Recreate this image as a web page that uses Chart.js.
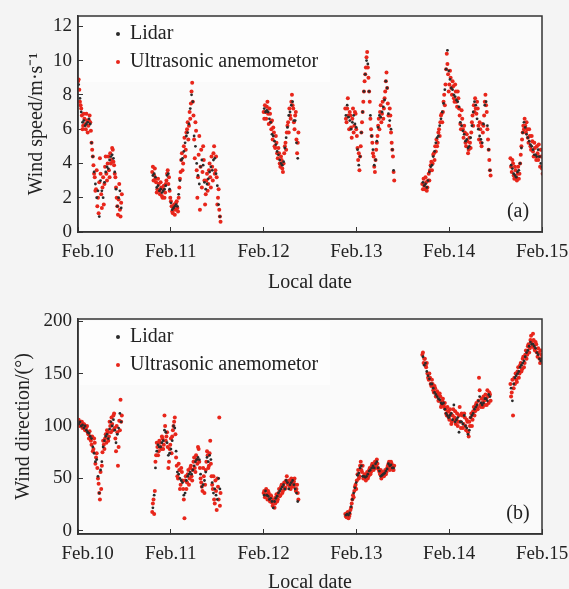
<!DOCTYPE html>
<html lang="en">
<head>
    <meta charset="UTF-8">
    <title>Wind speed and direction - Lidar vs ultrasonic anemometor</title>
    <script src="https://cdn.jsdelivr.net/npm/chart.js@4.4.0/dist/chart.umd.min.js"></script>
    <style>
        body { margin: 0; background: #f4f4f4; }
        #wrap { position: relative; width: 569px; height: 589px; overflow: hidden; }
        canvas { position: absolute; left: 0; }
        #speedChart { top: 0; }
        #dirChart { top: 300px; }
    </style>
</head>
<body>
<div id="wrap">
    <canvas id="speedChart" width="569" height="295"></canvas>
    <canvas id="dirChart" width="569" height="289"></canvas>
</div>
<script>
    // sampling: each segment starts at segStart (day of Feb), one value every 20 min
    const STEP = 1 / 72;
    const segStart = [10.00, 10.80, 12.00, 12.88, 13.71, 14.66];

    const dateTicks = [10, 11, 12, 13, 14, 15];
    const dateLabels = ['Feb.10', 'Feb.11', 'Feb.12', 'Feb.13', 'Feb.14', 'Feb.15'];
    const speedTicks = [0, 2, 4, 6, 8, 10, 12];
    const dirTicks = [0, 50, 100, 150, 200];

    // wind speed (m/s), ultrasonic anemometor, on the 20 min marks
    const speedUltra = [
        [8.8, 8.3, 7.4, 6.8, 6.2, 6.6, 6.0, 6.5, 6.2, 6.8, 5.9, 4.8, 3.9, 3.2, 2.5, 1.5, 1.1, 4.3, 2.2, 2.6, 1.6, 3.8, 3.4, 4.0, 3.6, 4.6, 4.2, 4.8, 3.9, 3.2, 2.0, 1.0, 2.8, 0.9, 2.2],
        [3.5, 3.0, 3.7, 2.9, 2.5, 2.8, 2.2, 2.6, 2.0, 2.7, 2.3, 3.0, 3.6, 3.2, 2.0, 1.5, 1.1, 1.6, 1.3, 1.8, 1.2, 2.6, 3.5, 4.6, 4.0, 5.5, 4.8, 6.0, 5.4, 7.0, 7.5, 8.7, 6.8, 4.3, 5.9, 2.0, 4.5, 1.3, 4.8, 3.5, 4.2, 1.6, 3.0, 2.4, 3.6, 3.2, 4.4, 3.0, 5.0, 3.6, 3.2, 2.0, 1.3, 0.6],
        [7.0, 7.4, 6.6, 7.6, 6.3, 6.9, 6.0, 5.4, 5.8, 4.9, 5.2, 4.3, 4.6, 3.8, 4.2, 3.5, 4.6, 5.2, 5.8, 6.4, 7.2, 6.6, 8.0, 7.2, 6.0, 7.0, 4.6, 5.8],
        [7.2, 6.4, 7.8, 6.0, 6.8, 5.5, 7.2, 6.2, 6.9, 5.6, 4.2, 3.6, 5.0, 6.4, 7.6, 8.8, 9.6, 10.5, 9.0, 7.6, 6.0, 5.2, 4.4, 3.5, 4.8, 5.6, 6.6, 7.0, 6.4, 7.6, 7.2, 8.2, 9.3, 7.5, 6.2, 6.8, 5.2, 4.4, 3.0],
        [2.8, 3.1, 2.5, 2.9, 2.6, 3.4, 3.6, 4.1, 4.0, 4.6, 5.0, 5.4, 5.2, 6.0, 6.4, 6.9, 7.0, 8.0, 8.6, 10.4, 9.2, 8.6, 9.0, 8.0, 8.5, 7.6, 8.2, 7.3, 7.8, 6.8, 6.0, 6.6, 5.5, 5.8, 5.0, 5.3, 4.8, 5.2, 5.8, 6.8, 7.4, 7.8, 6.9, 7.2, 5.4, 6.0, 5.0, 5.8, 6.8, 8.0, 7.0, 5.4, 4.2, 3.3],
        [4.3, 3.5, 4.0, 3.1, 3.6, 3.0, 3.8, 3.4, 4.5, 5.4, 6.2, 6.6, 5.8, 6.0, 5.2, 5.6, 4.8, 5.3, 4.4, 4.9, 4.2, 4.6, 5.1, 3.8, 4.4, 3.4]
    ];

    // wind speed (m/s), ultrasonic anemometor, 10 min after each mark
    const speedUltraMid = [
        [8.9, 7.6, 7.2, 6.0, 6.9, 6.3, 6.9, 5.8, 6.5, 6.4, 5.2, 4.4, 3.4, 2.4, 3.6, 2.0, 2.9, 3.4, 1.4, 3.2, 2.8, 4.4, 3.0, 4.4, 3.2, 4.0, 4.9, 4.1, 3.4, 2.6, 1.5, 1.9, 1.3, 1.7],
        [3.8, 3.3, 3.1, 2.3, 3.1, 2.4, 2.9, 2.1, 2.5, 2.0, 2.8, 3.4, 2.8, 2.4, 1.8, 1.2, 1.4, 1.0, 1.7, 1.4, 2.0, 3.1, 4.2, 3.6, 5.0, 4.4, 5.8, 6.4, 6.2, 6.6, 8.2, 7.6, 5.4, 6.4, 3.6, 3.2, 5.6, 3.8, 2.6, 5.0, 3.0, 2.2, 3.4, 2.8, 4.0, 2.6, 3.8, 4.6, 3.4, 4.4, 1.6, 2.5, 0.9],
        [6.6, 7.0, 7.3, 6.9, 7.2, 6.4, 6.5, 6.1, 5.0, 5.6, 4.6, 4.9, 4.0, 4.4, 3.7, 4.0, 5.0, 4.8, 6.2, 5.8, 6.8, 7.6, 7.4, 6.4, 6.8, 5.4, 5.2],
        [6.6, 7.2, 6.8, 7.0, 6.1, 6.6, 5.8, 7.0, 6.0, 4.9, 4.6, 4.4, 5.8, 7.0, 8.2, 9.2, 10.2, 9.6, 8.2, 6.6, 5.6, 4.6, 3.8, 4.2, 5.2, 6.2, 6.0, 7.4, 6.9, 6.6, 7.8, 8.8, 8.4, 6.8, 7.2, 5.8, 4.8, 3.5],
        [2.5, 2.7, 3.2, 2.4, 3.0, 3.0, 3.9, 3.6, 4.5, 4.2, 4.7, 5.0, 5.8, 5.6, 6.8, 6.4, 7.6, 7.4, 9.5, 9.8, 8.2, 9.4, 8.4, 8.8, 7.8, 8.6, 7.6, 8.2, 7.2, 6.3, 7.1, 6.0, 6.2, 5.2, 5.7, 4.6, 5.5, 4.9, 6.4, 6.2, 7.0, 7.2, 7.6, 6.2, 6.4, 5.2, 6.3, 6.2, 7.6, 7.4, 6.0, 4.8, 3.6],
        [3.8, 4.2, 3.3, 3.8, 3.2, 3.4, 3.1, 4.0, 5.0, 5.8, 6.0, 6.2, 6.4, 5.5, 6.0, 5.0, 5.6, 4.7, 5.2, 4.4, 5.0, 4.2, 4.4, 4.8, 3.7]
    ];

    // wind speed (m/s), lidar, 10 min after each mark
    const speedLidar = [
        [8.6, 7.8, 7.0, 6.4, 6.5, 6.2, 6.3, 6.4, 6.6, 6.3, 5.2, 4.4, 3.5, 2.8, 2.0, 2.4, 0.9, 3.0, 2.4, 2.0, 2.9, 3.5, 3.8, 3.7, 4.2, 4.4, 4.5, 4.3, 3.5, 2.5, 1.5, 2.0, 2.4, 1.4],
        [3.3, 3.4, 3.2, 2.6, 2.7, 2.4, 2.5, 2.3, 2.4, 2.5, 2.7, 3.3, 3.4, 2.5, 1.7, 1.3, 1.4, 1.5, 1.6, 1.5, 2.2, 3.0, 4.2, 4.3, 4.7, 5.2, 5.6, 5.8, 6.3, 7.2, 8.0, 7.6, 5.6, 5.0, 4.0, 3.3, 2.8, 3.8, 4.2, 3.9, 2.9, 2.5, 2.8, 3.1, 3.5, 3.8, 3.6, 4.2, 4.3, 3.4, 2.7, 1.6, 0.9],
        [7.2, 7.0, 7.1, 7.0, 6.6, 6.4, 5.7, 5.6, 5.3, 5.1, 4.7, 4.5, 4.2, 4.0, 3.9, 4.1, 4.9, 5.5, 6.1, 6.8, 7.0, 7.4, 7.6, 6.5, 6.5, 5.2, 4.3],
        [6.8, 7.4, 6.7, 6.5, 6.0, 6.4, 6.8, 6.3, 6.1, 4.8, 3.9, 4.4, 5.8, 7.0, 8.2, 9.2, 10.0, 9.8, 8.2, 6.8, 5.6, 4.8, 3.9, 4.2, 5.3, 6.1, 6.8, 6.7, 7.0, 7.3, 7.7, 8.8, 8.4, 6.9, 6.5, 6.0, 4.8, 3.6],
        [2.9, 2.7, 2.8, 2.6, 3.0, 3.5, 3.8, 3.9, 4.4, 4.7, 5.2, 5.5, 5.6, 6.2, 6.6, 7.0, 7.5, 8.3, 9.5, 10.6, 9.4, 8.9, 8.4, 8.3, 8.0, 7.9, 7.7, 7.6, 7.3, 6.4, 6.2, 5.9, 5.7, 5.3, 5.4, 4.9, 5.0, 5.5, 6.2, 7.0, 7.6, 7.4, 6.6, 6.0, 5.6, 5.4, 5.2, 6.3, 7.4, 7.6, 6.2, 4.8, 3.6],
        [3.9, 3.7, 3.4, 3.3, 3.2, 3.5, 3.6, 4.0, 4.9, 5.8, 6.4, 6.1, 5.7, 5.5, 5.3, 5.1, 5.0, 4.8, 4.5, 4.5, 4.4, 4.8, 4.4, 4.0, 3.8]
    ];

    // wind direction (deg), ultrasonic anemometor, on the 20 min marks
    const dirUltra = [
        [104, 103, 101, 104, 99, 101, 97, 100, 92, 95, 86, 90, 78, 84, 70, 60, 45, 30, 40, 75, 82, 88, 84, 94, 90, 100, 108, 96, 112, 88, 100, 62, 105, 125, 110],
        [18, 30, 38, 72, 80, 76, 84, 78, 88, 82, 100, 90, 80, 66, 82, 74, 96, 104, 92, 62, 50, 58, 44, 56, 40, 12, 52, 46, 58, 50, 62, 48, 66, 60, 72, 64, 78, 60, 46, 38, 52, 44, 66, 72, 62, 86, 52, 40, 30, 48, 20, 42, 108, 36],
        [36, 32, 40, 30, 36, 28, 33, 24, 30, 26, 35, 30, 40, 34, 44, 38, 46, 41, 52, 44, 48, 40, 46, 42, 50, 38, 44, 30],
        [16, 13, 18, 14, 20, 26, 34, 38, 44, 48, 58, 52, 66, 56, 50, 54, 48, 56, 52, 60, 56, 64, 58, 66, 62, 64, 58, 54, 50, 56, 52, 58, 56, 62, 66, 60, 64, 58, 62],
        [168, 160, 164, 156, 150, 144, 146, 138, 140, 132, 136, 128, 130, 124, 128, 120, 126, 118, 116, 110, 114, 106, 112, 104, 116, 108, 102, 112, 104, 118, 98, 110, 102, 108, 96, 104, 90, 100, 112, 106, 118, 114, 122, 116, 146, 120, 126, 118, 124, 130, 120, 128, 132, 124],
        [140, 132, 110, 146, 150, 142, 156, 150, 160, 154, 166, 160, 172, 168, 178, 174, 186, 176, 182, 172, 178, 166, 170, 160, 168, 166]
    ];

    // wind direction (deg), ultrasonic anemometor, 10 min after each mark
    const dirUltraMid = [
        [106, 100, 104, 98, 102, 96, 99, 94, 88, 90, 82, 76, 88, 64, 74, 50, 36, 56, 62, 86, 78, 92, 96, 86, 104, 94, 102, 110, 98, 76, 94, 80, 96, 104],
        [26, 16, 66, 84, 72, 86, 80, 90, 78, 110, 86, 94, 60, 78, 88, 90, 100, 108, 70, 52, 64, 40, 60, 48, 30, 48, 40, 54, 44, 60, 52, 58, 70, 56, 68, 80, 66, 50, 42, 60, 36, 58, 76, 60, 74, 64, 44, 52, 26, 38, 50, 30, 24],
        [38, 34, 35, 38, 31, 34, 27, 30, 22, 32, 28, 36, 33, 42, 36, 42, 40, 48, 45, 46, 42, 50, 43, 47, 44, 40, 36],
        [14, 17, 12, 16, 22, 30, 32, 42, 40, 54, 50, 62, 58, 62, 52, 50, 54, 50, 58, 54, 62, 60, 62, 60, 68, 60, 56, 58, 52, 54, 56, 54, 60, 64, 58, 66, 62, 58],
        [170, 164, 158, 160, 146, 150, 140, 144, 134, 138, 128, 133, 124, 131, 118, 124, 120, 122, 112, 118, 108, 116, 102, 110, 106, 114, 106, 100, 110, 104, 112, 98, 112, 100, 106, 94, 104, 108, 100, 114, 110, 120, 118, 124, 134, 118, 122, 128, 120, 126, 134, 122, 130],
        [128, 144, 136, 140, 144, 152, 146, 158, 152, 164, 156, 168, 164, 176, 170, 182, 180, 188, 174, 180, 170, 174, 164, 172, 162]
    ];

    // wind direction (deg), lidar, 10 min after each mark
    const dirLidar = [
        [102, 104, 100, 101, 98, 100, 96, 94, 93, 90, 88, 80, 74, 66, 68, 52, 36, 58, 66, 80, 86, 90, 92, 88, 97, 104, 100, 106, 96, 84, 92, 98, 112, 104],
        [22, 34, 60, 76, 82, 80, 80, 84, 86, 96, 94, 84, 72, 74, 78, 86, 100, 98, 76, 56, 54, 50, 48, 46, 34, 36, 48, 52, 54, 56, 54, 58, 62, 66, 68, 70, 68, 54, 42, 44, 48, 56, 70, 66, 72, 68, 46, 36, 40, 34, 30, 50, 40],
        [34, 38, 34, 33, 30, 31, 28, 22, 28, 31, 33, 36, 38, 40, 42, 44, 40, 48, 46, 40, 44, 46, 48, 44, 40, 36, 28],
        [15, 16, 15, 17, 23, 30, 36, 41, 46, 53, 55, 60, 62, 52, 52, 51, 52, 54, 57, 58, 60, 62, 60, 64, 66, 60, 57, 52, 53, 54, 55, 57, 59, 64, 62, 63, 60, 60],
        [166, 158, 160, 152, 148, 145, 140, 140, 136, 132, 130, 128, 126, 125, 122, 121, 122, 116, 112, 110, 108, 110, 112, 106, 120, 104, 106, 108, 94, 104, 104, 102, 110, 100, 98, 92, 96, 108, 110, 112, 116, 118, 120, 124, 128, 122, 120, 122, 126, 126, 124, 130, 128],
        [136, 124, 140, 146, 148, 150, 152, 156, 158, 160, 162, 166, 170, 172, 176, 180, 178, 178, 176, 174, 170, 168, 164, 162, 164]
    ];

    const LIDAR_COLOR = '#2b2b2b';
    const ULTRA_COLOR = '#e8261b';
    const FONT = "'Liberation Serif', 'Times New Roman', serif";

    Chart.defaults.font.family = FONT;
    Chart.defaults.color = '#222';

    function makePoints(segments, shift) {
        const pts = [];
        segments.forEach((vals, s) => {
            vals.forEach((v, j) => pts.push({ x: segStart[s] + (j + shift) * STEP, y: v }));
        });
        return pts;
    }

    // plot background, closed frame, legend in the corner and panel tag
    const panelDecor = {
        id: 'panelDecor',
        beforeDraw(chart, args, opts) {
            const { ctx, chartArea: a } = chart;
            ctx.save();
            ctx.fillStyle = '#fafafa';
            ctx.fillRect(a.left, a.top, a.right - a.left, a.bottom - a.top);
            ctx.fillStyle = '#fdfdfd';
            ctx.fillRect(a.left + 2, a.top + 2, 250, 64);
            ctx.restore();
        },
        afterDraw(chart, args, opts) {
            const { ctx, chartArea: a } = chart;
            ctx.save();
            ctx.strokeStyle = '#333';
            ctx.lineWidth = 1.5;
            ctx.strokeRect(a.left, a.top, a.right - a.left, a.bottom - a.top);

            ctx.font = '20px ' + FONT;
            ctx.textBaseline = 'middle';
            chart.data.datasets.forEach((ds, i) => {
                const y = a.top + 18 + i * 28;
                ctx.fillStyle = ds.backgroundColor;
                ctx.beginPath();
                ctx.arc(a.left + 40, y, 2, 0, Math.PI * 2);
                ctx.fill();
                ctx.fillStyle = '#222';
                ctx.fillText(ds.label, a.left + 52, y);
            });
            ctx.textAlign = 'center';
            ctx.fillText(opts.tag, a.right - 24, a.bottom - 20);
            ctx.restore();
        }
    };

    function makeChart(id, ultra, ultraMid, lidar, cfg) {
        const ctx = document.getElementById(id).getContext('2d');
        return new Chart(ctx, {
            type: 'scatter',
            data: {
                datasets: [{
                    label: 'Lidar',
                    data: makePoints(lidar, 0.5),
                    backgroundColor: LIDAR_COLOR,
                    pointRadius: 1.4,
                    pointBorderWidth: 0,
                    order: 0
                }, {
                    label: 'Ultrasonic anemometor',
                    data: makePoints(ultra, 0).concat(makePoints(ultraMid, 0.5)),
                    backgroundColor: ULTRA_COLOR,
                    pointRadius: 2,
                    pointBorderWidth: 0,
                    order: 1
                }]
            },
            options: {
                responsive: false,
                animation: false,
                layout: { padding: { top: cfg.top, right: 27, left: 0, bottom: 0 } },
                plugins: {
                    legend: { display: false },
                    tooltip: { enabled: false },
                    panelDecor: { tag: cfg.tag }
                },
                scales: {
                    x: {
                        type: 'linear',
                        min: 10,
                        max: 15,
                        afterBuildTicks: s => { s.ticks = dateTicks.map(v => ({ value: v })); },
                        afterFit: s => {
                            s.height = cfg.xHeight;
                            s.paddingLeft = 0;
                            s.paddingRight = 0;
                        },
                        ticks: {
                            font: { size: 19 },
                            padding: 14,
                            maxRotation: 0,
                            autoSkip: false,
                            callback: v => {
                                const i = dateTicks.indexOf(v);
                                return i === 0 ? '\u2003' + dateLabels[i] : dateLabels[i];
                            }
                        },
                        grid: { drawOnChartArea: false, tickLength: -5, color: '#333' },
                        border: { color: '#333', width: 1.5 },
                        title: { display: true, text: 'Local date', font: { size: 20 }, padding: cfg.xTitlePad }
                    },
                    y: {
                        min: cfg.yMin,
                        max: cfg.yMax,
                        afterBuildTicks: s => { s.ticks = cfg.yTicks.map(v => ({ value: v })); },
                        afterFit: s => {
                            s.width = 78;
                            s.paddingTop = 0;
                            s.paddingBottom = 0;
                        },
                        ticks: { font: { size: 19 }, padding: 11 },
                        grid: { drawOnChartArea: false, tickLength: -5, color: '#333' },
                        border: { color: '#333', width: 1.5 },
                        title: { display: true, text: cfg.yTitle, font: { size: 20 }, padding: cfg.yTitlePad }
                    }
                }
            },
            plugins: [panelDecor]
        });
    }

    makeChart('speedChart', speedUltra, speedUltraMid, speedLidar, {
        top: 16, xHeight: 63, xTitlePad: 0,
        yMin: 0, yMax: 12.6, yTicks: speedTicks,
        yTitle: 'Wind speed/m\u00b7s\u207b\u00b9', yTitlePad: 25, tag: '(a)'
    });

    makeChart('dirChart', dirUltra, dirUltraMid, dirLidar, {
        top: 19, xHeight: 55, xTitlePad: -6,
        yMin: -3, yMax: 202, yTicks: dirTicks,
        yTitle: 'Wind direction/(\u00b0)', yTitlePad: 12, tag: '(b)'
    });
</script>
</body>
</html>
